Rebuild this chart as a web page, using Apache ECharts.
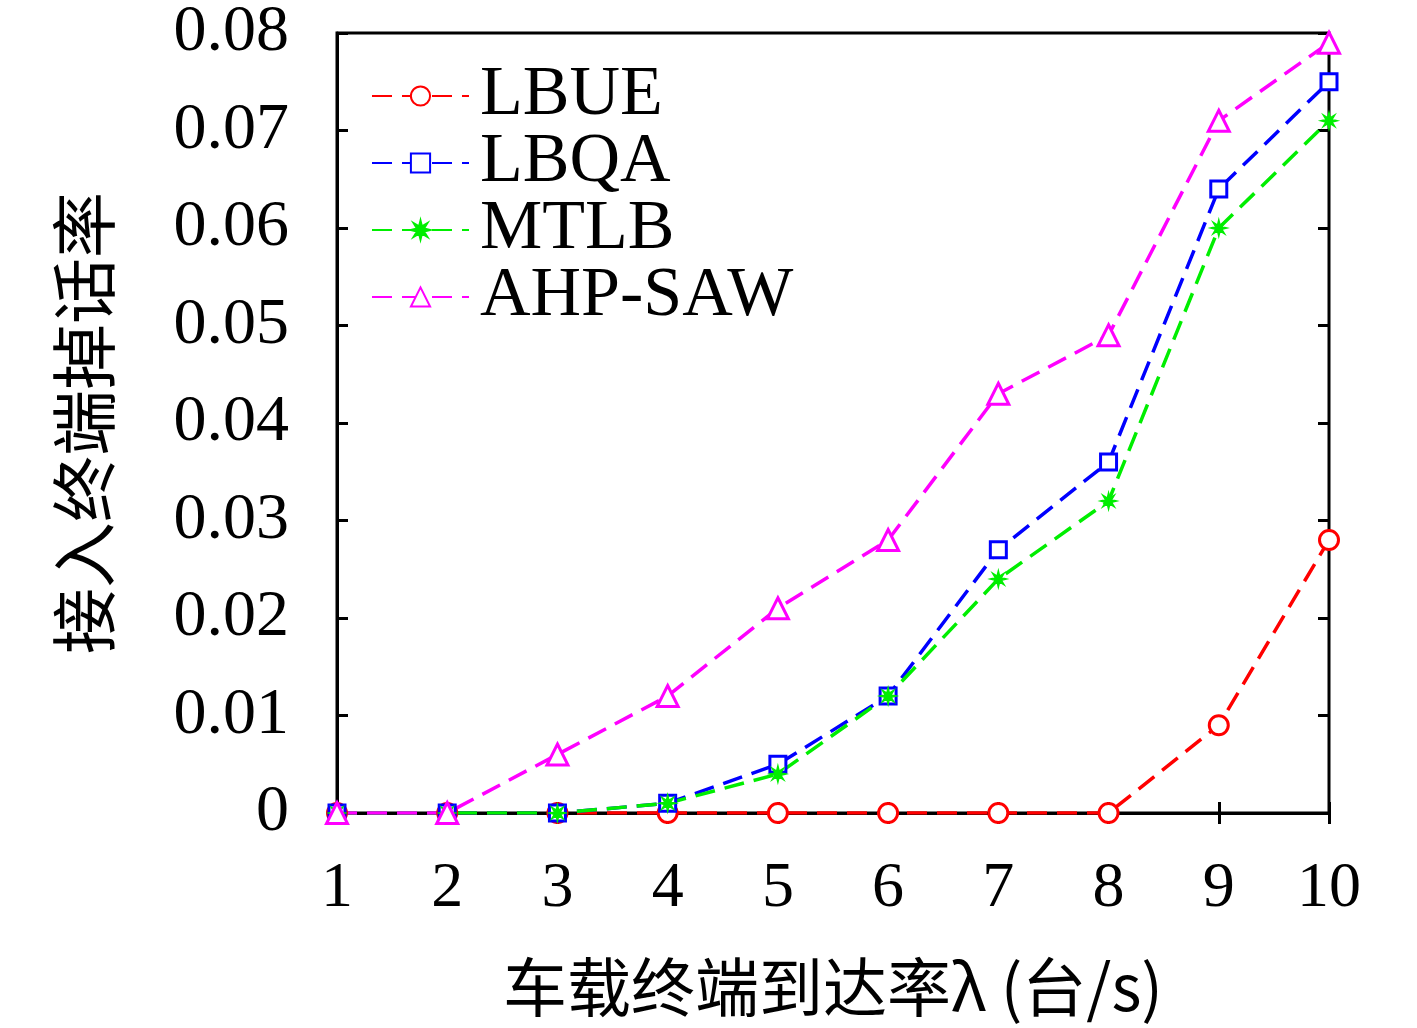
<!DOCTYPE html>
<html>
<head>
<meta charset="utf-8">
<script src="https://cdn.jsdelivr.net/npm/echarts@6/dist/echarts.min.js"></script>
<style>
  html, body { margin: 0; padding: 0; background: #fff; }
  #chart { width: 1417px; height: 1028px; }
</style>
</head>
<body>
<div id="chart"></div>
<script>
// 数据
const arrivalRate = [1, 2, 3, 4, 5, 6, 7, 8, 9, 10];
const lbue   = [0, 0, 0, 0, 0, 0, 0, 0, 0.009, 0.028];
const lbqa   = [0, 0, 0, 0.001, 0.005, 0.012, 0.027, 0.036, 0.064, 0.075];
const mtlb   = [0, 0, 0, 0.001, 0.004, 0.012, 0.024, 0.032, 0.060, 0.071];
const ahpSaw = [0, 0, 0.006, 0.012, 0.021, 0.028, 0.043, 0.049, 0.071, 0.079];
const seriesNames = ['LBUE', 'LBQA', 'MTLB', 'AHP-SAW'];

const serif = '"Liberation Serif", "DejaVu Serif", serif';
const cjk = '"Noto Sans CJK SC", "Liberation Serif", serif';

// 星号标记的形状
function starPath() {
    let d = '';
    for (let i = 0; i < 16; i++) {
        const r = i % 2 === 0 ? 10 : 4;
        const a = Math.PI * i / 8;
        d += (i === 0 ? 'M' : 'L') + (10 + r * Math.sin(a)).toFixed(2) + ' ' + (10 - r * Math.cos(a)).toFixed(2);
    }
    return 'path://' + d + 'Z';
}

const chart = echarts.init(document.getElementById('chart'));

function pairs(values) {
    return arrivalRate.map((x, i) => [x, values[i]]);
}

function lineSeries(name, values, color, symbol, size, filled) {
    return {
        name: name,
        type: 'line',
        data: pairs(values),
        symbol: symbol,
        symbolSize: size,
        showAllSymbol: true,
        lineStyle: { color: color, width: 3.5, type: [20, 10] },
        itemStyle: filled
            ? { color: color, borderColor: color, borderWidth: 1.5 }
            : { color: '#fff', borderColor: color, borderWidth: 3 },
        emphasis: { disabled: true },
        animation: false
    };
}

const tickStyle = { show: true, inside: true, length: 11, lineStyle: { color: '#000', width: 3 } };

const option = {
    backgroundColor: '#fff',
    grid: { left: 337, right: 88, top: 28, bottom: 215, show: true, borderColor: '#000', borderWidth: 3 },
    legend: {
        orient: 'vertical',
        left: 366,
        top: 56,
        itemWidth: 97,
        itemHeight: 24,
        itemGap: -3,
        data: seriesNames,
        textStyle: { fontFamily: serif, fontSize: 70, color: '#000', lineHeight: 58, padding: [0, 0, 0, 6] }
    },
    xAxis: [{
        type: 'value',
        min: 1,
        max: 10,
        interval: 1,
        position: 'bottom',
        axisLine: { show: true, lineStyle: { color: '#000', width: 3 } },
        axisTick: tickStyle,
        splitLine: { show: false },
        axisLabel: { fontFamily: serif, fontSize: 64, color: '#000', margin: 44 },
        name: '车载终端到达率λ (台/s)',
        nameLocation: 'middle',
        nameGap: 142,
        nameTextStyle: { fontFamily: cjk, fontSize: 64, color: '#000' }
    }, {
        type: 'value',
        min: 1,
        max: 10,
        interval: 1,
        position: 'top',
        axisLine: { show: false },
        axisTick: tickStyle,
        axisLabel: { show: false },
        splitLine: { show: false }
    }],
    yAxis: [{
        type: 'value',
        min: 0,
        max: 0.08,
        interval: 0.01,
        position: 'left',
        axisLine: { show: true, lineStyle: { color: '#000', width: 3 } },
        axisTick: tickStyle,
        splitLine: { show: false },
        axisLabel: {
            fontFamily: serif, fontSize: 66, color: '#000', margin: 48,
            formatter: v => v === 0 ? '0' : v.toFixed(2)
        },
        name: '接入终端掉话率',
        nameLocation: 'middle',
        nameGap: 220,
        nameTextStyle: { fontFamily: cjk, fontSize: 66, color: '#000' }
    }, {
        type: 'value',
        min: 0,
        max: 0.08,
        interval: 0.01,
        position: 'right',
        axisLine: { show: false },
        axisTick: tickStyle,
        axisLabel: { show: false },
        splitLine: { show: false }
    }],
    series: [
        lineSeries('LBUE', lbue, '#ff0000', 'circle', 19, false),
        lineSeries('LBQA', lbqa, '#0000ff', 'rect', 16, false),
        lineSeries('MTLB', mtlb, '#00ee00', starPath(), 16, true),
        lineSeries('AHP-SAW', ahpSaw, '#ff00ff', 'triangle', 21, false)
    ]
};

chart.setOption(option);
</script>
</body>
</html>
